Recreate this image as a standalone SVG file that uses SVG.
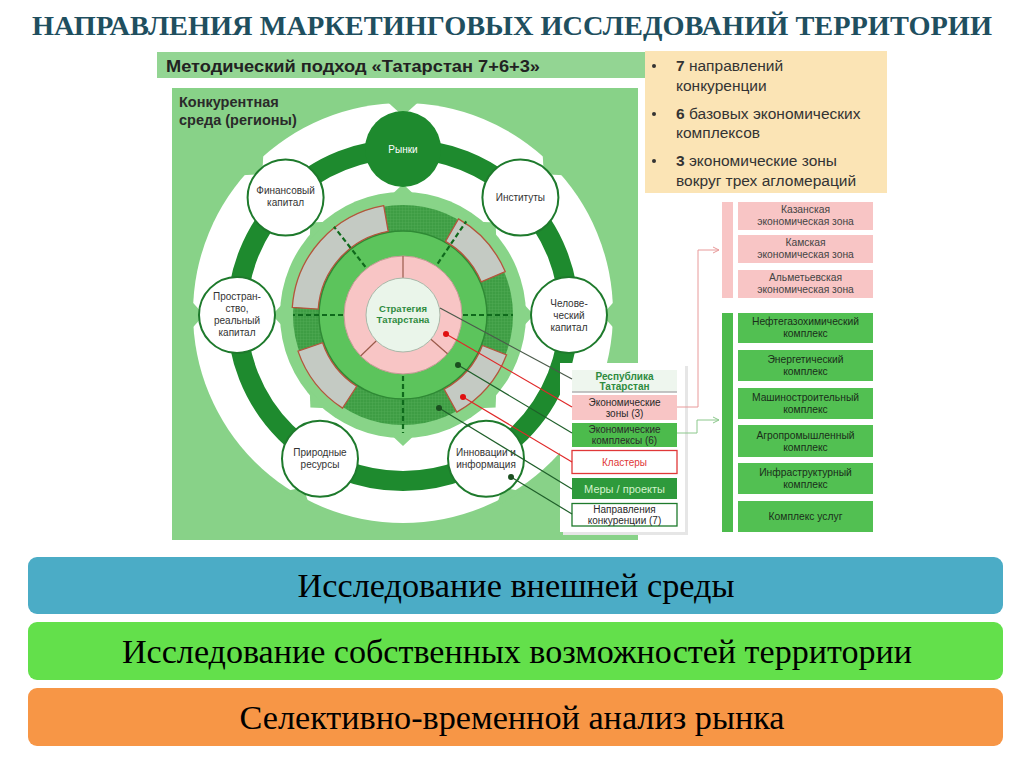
<svg xmlns="http://www.w3.org/2000/svg" width="1024" height="767" viewBox="0 0 1024 767">
<style>
.ss{font-family:"Liberation Sans",Arial,sans-serif}
.sf{font-family:"Liberation Serif","Times New Roman",serif}
.node{fill:#fff;stroke:#1e7a2c;stroke-width:2}
.nt{font-family:"Liberation Sans",Arial,sans-serif;font-size:10px;fill:#333;text-anchor:middle}
.lt{font-family:"Liberation Sans",Arial,sans-serif;font-size:10px;fill:#2a2a2a;text-anchor:middle}
.rt{font-family:"Liberation Sans",Arial,sans-serif;font-size:10.3px;text-anchor:middle}
.seg{fill:#c4cac3;stroke:#b4553c;stroke-width:1.3}
.dash{stroke:#0f6a1c;stroke-width:2.2;stroke-dasharray:5 3;fill:none}
.div{stroke:#9a5a4a;stroke-width:1.2}
.bar{font-family:"Liberation Serif","Times New Roman",serif;font-size:34px;fill:#000;text-anchor:middle}
.notch{fill:#88d288}
</style>
<defs>
<pattern id="grid" width="3" height="3" patternUnits="userSpaceOnUse">
<rect width="3" height="3" fill="#3e9d44"/>
<path d="M0 0H3M0 0V3" stroke="#55b25a" stroke-width="0.6"/>
</pattern>
<marker id="arrP" markerWidth="8" markerHeight="8" refX="7" refY="4" orient="auto" markerUnits="userSpaceOnUse">
<path d="M1,1 L7,4 L1,7" fill="none" stroke="#e89a9a" stroke-width="1"/>
</marker>
<marker id="arrG" markerWidth="8" markerHeight="8" refX="7" refY="4" orient="auto" markerUnits="userSpaceOnUse">
<path d="M1,1 L7,4 L1,7" fill="none" stroke="#8cc88c" stroke-width="1"/>
</marker>
</defs>
<rect width="1024" height="767" fill="#fff"/>

<!-- Title -->
<text id="title" class="sf" x="512" y="35" font-size="28" font-weight="bold" fill="#1f4f5f" text-anchor="middle" textLength="960" lengthAdjust="spacingAndGlyphs">НАПРАВЛЕНИЯ МАРКЕТИНГОВЫХ ИССЛЕДОВАНИЙ ТЕРРИТОРИИ</text>

<!-- Header bar -->
<g id="header">
<rect x="157" y="52" width="489" height="26" fill="#93d593"/>
<text class="ss" x="166" y="72" font-size="16.5" font-weight="bold" fill="#222" textLength="374" lengthAdjust="spacingAndGlyphs">Методический подход «Татарстан 7+6+3»</text>
</g>

<!-- Legend box -->
<g id="legend" class="ss" font-size="15.5" fill="#333">
<rect x="645" y="51" width="242" height="142" fill="#fbe4b5"/>
<circle cx="654" cy="66" r="2" fill="#333"/>
<circle cx="654" cy="114" r="2" fill="#333"/>
<circle cx="654" cy="161" r="2" fill="#333"/>
<text x="676" y="71"><tspan font-weight="bold">7</tspan> направлений</text>
<text x="676" y="91">конкуренции</text>
<text x="676" y="119"><tspan font-weight="bold">6</tspan> базовых экономических</text>
<text x="676" y="138">комплексов</text>
<text x="676" y="166"><tspan font-weight="bold">3</tspan> экономические зоны</text>
<text x="676" y="186">вокруг трех агломераций</text>
</g>

<!-- Main panel -->
<g id="panel">
<rect x="172" y="88" width="466" height="452" fill="#88d288"/>
<text class="ss" x="179" y="107" font-size="14.5" font-weight="bold" fill="#2a2a2a">Конкурентная</text>
<text class="ss" x="179" y="125" font-size="14.5" font-weight="bold" fill="#2a2a2a">среда (регионы)</text>
<circle cx="403" cy="313" r="210" fill="#fff"/>
<polygon class="notch" points="403,116 388.1,102.5 417.9,102.5"/>
<polygon class="notch" points="543.7,174.3 542.7,154.2 563.8,175.3"/>
<polygon class="notch" points="602,315 615.5,300.1 615.5,329.9"/>
<polygon class="notch" points="502.5,487.3 522.1,491.6 496.4,506.4"/>
<polygon class="notch" points="303.5,487.3 283.9,491.6 309.6,506.4"/>
<polygon class="notch" points="204,315 190.5,300.1 190.5,329.9"/>
<polygon class="notch" points="262.3,174.3 263.3,154.2 242.2,175.3"/>
<circle cx="403" cy="315" r="166" fill="none" stroke="#1e8a2e" stroke-width="20"/>
</g>

<!-- Core disk -->
<g id="core">
<circle cx="403" cy="315" r="123" fill="#88d488"/>
<polygon fill="#88d488" points="534,315 522.3,302.5 522.3,327.5"/>
<polygon fill="#88d488" points="403,184 390.5,195.7 415.5,195.7"/>
<polygon fill="#88d488" points="272,315 283.7,302.5 283.7,327.5"/>
<polygon fill="#88d488" points="403,446 390.5,434.3 415.5,434.3"/>
<polygon fill="#88d488" points="495.6,222.4 478.5,221.7 496.3,239.5"/>
<polygon fill="#88d488" points="310.4,222.4 327.5,221.7 309.7,239.5"/>
<polygon fill="#88d488" points="495.6,407.6 496.3,390.5 478.5,408.3"/>
<polygon fill="#88d488" points="310.4,407.6 309.7,390.5 327.5,408.3"/>
<circle cx="403" cy="315" r="110" fill="url(#grid)"/>
<circle cx="403" cy="315" r="84" fill="#5cc45c" stroke="#2f8a35" stroke-width="1.5"/>
<path class="seg" d="M292.3,307.3 A111,111 0 0 1 383.7,205.7 L388.2,231.3 A85,85 0 0 0 318.2,309.1 Z"/>
<path class="seg" d="M458.5,218.9 A111,111 0 0 1 505.2,271.6 L481.2,281.8 A85,85 0 0 0 445.5,241.4 Z"/>
<path class="seg" d="M342.5,408.1 A111,111 0 0 1 298,351.1 L322.6,342.7 A85,85 0 0 0 356.7,386.3 Z"/>
<path class="seg" d="M506.6,354.8 A111,111 0 0 1 456.8,412.1 L444.2,389.3 A85,85 0 0 0 482.4,345.5 Z"/>
<circle cx="403" cy="315" r="59" fill="#f8c5c5" stroke="#c49a94" stroke-width="1"/>
<line class="div" x1="403" y1="278" x2="403" y2="256"/>
<line class="div" x1="376.4" y1="340.7" x2="360.6" y2="356"/>
<line class="div" x1="430.9" y1="339.3" x2="447.5" y2="353.7"/>
<circle cx="403" cy="315" r="37" fill="#eaf5ea" stroke="#a9b8a9" stroke-width="1"/>
<line class="dash" x1="343" y1="315" x2="293" y2="315"/>
<line class="dash" x1="463" y1="315" x2="513" y2="315"/>
<line class="dash" x1="403" y1="376" x2="403" y2="433"/>
<line class="dash" x1="365.4" y1="266.9" x2="334" y2="226.7"/>
<line class="dash" x1="437.7" y1="263.6" x2="466.2" y2="221.3"/>
<text class="ss" x="403" y="312" font-size="9.5" font-weight="bold" fill="#2e8b3e" text-anchor="middle">Стратегия</text>
<text class="ss" x="403" y="323" font-size="9.5" font-weight="bold" fill="#2e8b3e" text-anchor="middle">Татарстана</text>
</g>

<!-- Ring nodes -->
<g id="n-markets"><circle cx="403" cy="149" r="38" fill="#1e8a2e"/><text class="nt" x="403" y="153" style="fill:#fff">Рынки</text></g>
<g id="n-institutes"><circle class="node" cx="520.4" cy="197.6" r="38"/><text class="nt" x="520.4" y="201">Институты</text></g>
<g id="n-human"><circle class="node" cx="569" cy="315" r="38"/><text class="nt" x="569" y="307">Челове-</text><text class="nt" x="569" y="319">ческий</text><text class="nt" x="569" y="331">капитал</text></g>
<g id="n-innov"><circle class="node" cx="486" cy="458.8" r="38"/><text class="nt" x="486" y="456">Инновации и</text><text class="nt" x="486" y="468">информация</text></g>
<g id="n-nature"><circle class="node" cx="320" cy="458.8" r="38"/><text class="nt" x="320" y="456">Природные</text><text class="nt" x="320" y="468">ресурсы</text></g>
<g id="n-space"><circle class="node" cx="237" cy="315" r="38"/><text class="nt" x="237" y="300">Простран-</text><text class="nt" x="237" y="312">ство,</text><text class="nt" x="237" y="324">реальный</text><text class="nt" x="237" y="336">капитал</text></g>
<g id="n-finance"><circle class="node" cx="285.6" cy="197.6" r="38"/><text class="nt" x="285.6" y="194">Финансовый</text><text class="nt" x="285.6" y="206">капитал</text></g>

<!-- List panel -->
<g id="list">
<rect x="563" y="366" width="125" height="169" fill="#e6e6e6"/>
<rect x="560" y="363" width="125" height="169" fill="#fff"/>
<g id="l-rt"><rect x="572" y="370" width="105" height="22" fill="#eef6ee"/><line x1="572" y1="392" x2="677" y2="392" stroke="#b0b0b0" stroke-width="1.5"/>
<text class="lt" x="624.5" y="380" font-weight="bold" style="fill:#2e8b3e">Республика</text><text class="lt" x="624.5" y="390" font-weight="bold" style="fill:#2e8b3e">Татарстан</text></g>
<g id="l-zones"><rect x="572" y="395" width="105" height="25" fill="#f8c5c5"/><text class="lt" x="624.5" y="406">Экономические</text><text class="lt" x="624.5" y="417">зоны (3)</text></g>
<g id="l-compl"><rect x="572" y="423" width="105" height="24" fill="#4cbb4c"/><text class="lt" x="624.5" y="433">Экономические</text><text class="lt" x="624.5" y="444">комплексы (6)</text></g>
<g id="l-clust"><rect x="572" y="450.5" width="105" height="23" fill="#fff" stroke="#e03838" stroke-width="1.3"/><text class="lt" x="624.5" y="466" style="fill:#e03838">Кластеры</text></g>
<g id="l-meas"><rect x="572" y="478" width="105" height="21" fill="#2e9a3c"/><text class="lt" x="624.5" y="493" style="fill:#d4f2cc;font-size:11px">Меры / проекты</text></g>
<g id="l-dir"><rect x="572" y="503.5" width="105" height="22.5" fill="#fff" stroke="#1e7a2c" stroke-width="1.3"/><text class="lt" x="624.5" y="513">Направления</text><text class="lt" x="624.5" y="524">конкуренции (7)</text></g>
</g>

<!-- Zones column -->
<g id="zones">
<rect x="722" y="202" width="11" height="96" fill="#f8c5c5"/>
<g id="z1"><rect x="738" y="202" width="135" height="28" fill="#f8c5c5"/><text class="rt" x="805.5" y="213" fill="#444">Казанская</text><text class="rt" x="805.5" y="225" fill="#444">экономическая зона</text></g>
<g id="z2"><rect x="738" y="235" width="135" height="28" fill="#f8c5c5"/><text class="rt" x="805.5" y="246" fill="#444">Камская</text><text class="rt" x="805.5" y="258" fill="#444">экономическая зона</text></g>
<g id="z3"><rect x="738" y="270" width="135" height="28" fill="#f8c5c5"/><text class="rt" x="805.5" y="281" fill="#444">Альметьевская</text><text class="rt" x="805.5" y="293" fill="#444">экономическая зона</text></g>
</g>

<!-- Complexes column -->
<g id="complexes">
<rect x="722" y="313" width="11" height="219" fill="#4cbb4c"/>
<g id="c1"><rect x="738" y="313" width="135" height="30" fill="#52c052"/><text class="rt" x="805.5" y="325" fill="#1a2e1a">Нефтегазохимический</text><text class="rt" x="805.5" y="337" fill="#1a2e1a">комплекс</text></g>
<g id="c2"><rect x="738" y="350" width="135" height="31" fill="#52c052"/><text class="rt" x="805.5" y="363" fill="#1a2e1a">Энергетический</text><text class="rt" x="805.5" y="375" fill="#1a2e1a">комплекс</text></g>
<g id="c3"><rect x="738" y="388" width="135" height="31" fill="#52c052"/><text class="rt" x="805.5" y="401" fill="#1a2e1a">Машиностроительный</text><text class="rt" x="805.5" y="413" fill="#1a2e1a">комплекс</text></g>
<g id="c4"><rect x="738" y="425" width="135" height="32" fill="#52c052"/><text class="rt" x="805.5" y="439" fill="#1a2e1a">Агропромышленный</text><text class="rt" x="805.5" y="451" fill="#1a2e1a">комплекс</text></g>
<g id="c5"><rect x="738" y="463" width="135" height="31" fill="#52c052"/><text class="rt" x="805.5" y="476" fill="#1a2e1a">Инфраструктурный</text><text class="rt" x="805.5" y="488" fill="#1a2e1a">комплекс</text></g>
<g id="c6"><rect x="738" y="501" width="135" height="31" fill="#52c052"/><text class="rt" x="805.5" y="520" fill="#1a2e1a">Комплекс услуг</text></g>
</g>

<!-- Connectors -->
<g id="connectors" fill="none" stroke-width="1.2">
<line x1="440" y1="308" x2="572" y2="379" stroke="#4a5a4a"/>
<line x1="446" y1="334" x2="572" y2="407" stroke="#e02828"/>
<line x1="458" y1="365" x2="572" y2="433" stroke="#1f5f2a"/>
<line x1="463" y1="397" x2="572" y2="462" stroke="#e02828"/>
<line x1="439" y1="408" x2="572" y2="489" stroke="#1f5f2a"/>
<line x1="511" y1="477" x2="572" y2="514" stroke="#1f5f2a"/>
<path d="M677,407 H698 V250 H719" stroke="#e89a9a" stroke-width="1" marker-end="url(#arrP)"/>
<path d="M677,433 H697 V420 H719" stroke="#8cc88c" stroke-width="1" marker-end="url(#arrG)"/>
<circle cx="446" cy="334" r="3" fill="#e01010" stroke="none"/>
<circle cx="463" cy="397" r="3" fill="#e01010" stroke="none"/>
<circle cx="458" cy="365" r="3" fill="#1a4f1f" stroke="none"/>
<circle cx="439" cy="408" r="3" fill="#1a4f1f" stroke="none"/>
<circle cx="511" cy="477" r="3" fill="#1a4f1f" stroke="none"/>
</g>

<!-- Bottom bars -->
<g id="bar1"><rect x="28" y="557" width="975" height="57" rx="9" fill="#4bacc6"/><text class="bar" x="516" y="597" textLength="437" lengthAdjust="spacingAndGlyphs">Исследование внешней среды</text></g>
<g id="bar2"><rect x="28" y="622" width="975" height="58" rx="9" fill="#63e04b"/><text class="bar" x="517" y="663" textLength="790" lengthAdjust="spacingAndGlyphs">Исследование собственных возможностей территории</text></g>
<g id="bar3"><rect x="28" y="688" width="975" height="58" rx="9" fill="#f79646"/><text class="bar" x="512" y="729" textLength="545" lengthAdjust="spacingAndGlyphs">Селективно-временной анализ рынка</text></g>
</svg>
